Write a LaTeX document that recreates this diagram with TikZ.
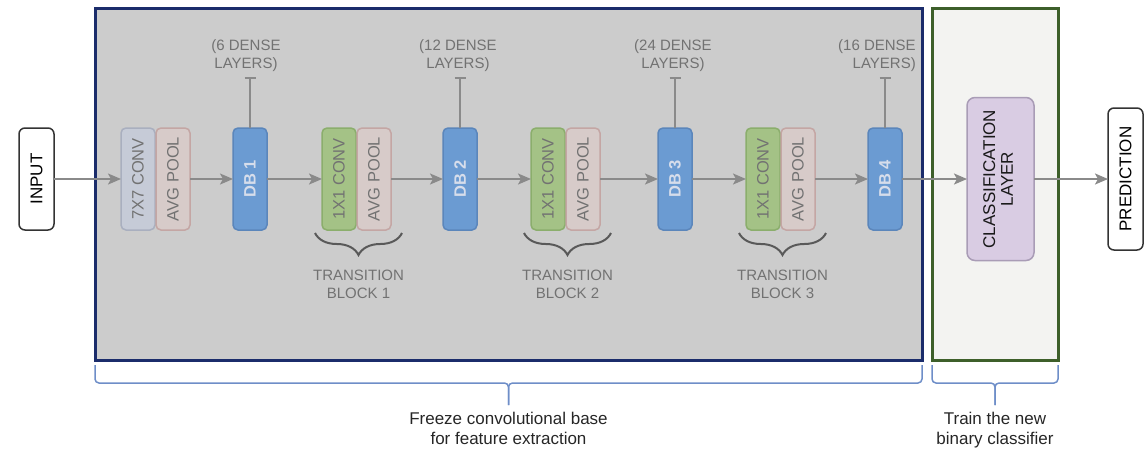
\documentclass[tikz,border=0pt]{standalone}
\usepackage{fontspec}
\setmainfont{Liberation Sans}
\usetikzlibrary{positioning, arrows.meta, decorations.pathreplacing}

\definecolor{frozenGray}{HTML}{CCCCCC}
\definecolor{frozenNavy}{HTML}{1B2C6B}
\definecolor{trainGreen}{HTML}{3D5F2A}
\definecolor{trainFill}{HTML}{F3F3F1}
\definecolor{convBlue}{HTML}{C6CBD7}
\definecolor{convBlueLine}{HTML}{A9AFBF}
\definecolor{poolPink}{HTML}{D7CBC9}
\definecolor{poolPinkLine}{HTML}{C4A6A4}
\definecolor{denseBlue}{HTML}{6B9BD2}
\definecolor{denseBlueLine}{HTML}{5B86BB}
\definecolor{denseText}{HTML}{D6DDEB}
\definecolor{transGreen}{HTML}{A4C286}
\definecolor{transGreenLine}{HTML}{8BAE6C}
\definecolor{classLilac}{HTML}{D9CCE3}
\definecolor{classLilacLine}{HTML}{A99CB6}
\definecolor{flowGray}{HTML}{8A8A8A}
\definecolor{labelGray}{HTML}{727272}
\definecolor{braceBlue}{HTML}{6E8EC8}

\tikzset{Block/.style={%
    shape=rectangle,%
    rounded corners=5pt,%
    minimum width=34pt,%
    minimum height=102pt,%
    inner sep=1pt,%
    outer sep=0pt,%
    line width=1.5pt,%
    text=labelGray,%
    font=\fontsize{16.5}{19}\selectfont,%
}}
\tikzset{ConvBlock/.style={Block, fill=convBlue, draw=convBlueLine}}
\tikzset{PoolBlock/.style={Block, fill=poolPink, draw=poolPinkLine}}
\tikzset{TransConv/.style={Block, fill=transGreen, draw=transGreenLine}}
\tikzset{DenseBlock/.style={Block, fill=denseBlue, draw=denseBlueLine, text=denseText}}
\tikzset{IOBox/.style={%
    Block,%
    fill=white,%
    draw=black!80,%
    rounded corners=6pt,%
    minimum width=35pt,%
    text=black,%
    font=\fontsize{17}{19}\selectfont,%
}}
\tikzset{ClassBlock/.style={%
    Block,%
    fill=classLilac,%
    draw=classLilacLine,%
    rounded corners=8pt,%
    minimum width=67pt,%
    minimum height=163pt,%
    text=black!90,%
    font=\fontsize{17}{17.7}\selectfont,%
}}
\tikzset{FrozenFrame/.style={%
    shape=rectangle,%
    draw=frozenNavy,%
    fill=frozenGray,%
    line width=3pt,%
    outer sep=0pt,%
    minimum width=827pt,%
    minimum height=352pt,%
}}
\tikzset{TrainFrame/.style={%
    FrozenFrame,%
    draw=trainGreen,%
    fill=trainFill,%
    minimum width=126pt,%
}}
\tikzset{FlowArrow/.style={%
    -{Stealth[length=13pt,width=11pt,inset=3pt]},%
    draw=flowGray,%
    fill=flowGray,%
    line width=2pt,%
}}
\tikzset{DenseLine/.style={%
    -{Bar[width=11pt]},%
    draw=flowGray,%
    line width=1.5pt,%
}}
\tikzset{DenseLabel/.style={%
    align=center,%
    inner sep=0pt,%
    text=labelGray,%
    font=\fontsize{15}{18}\selectfont,%
}}
\tikzset{TransBrace/.style={%
    decorate,%
    decoration={brace, mirror, amplitude=22pt},%
    draw=black!65,%
    line width=2pt,%
}}
\tikzset{FreezeBrace/.style={%
    draw=braceBlue,%
    line width=1.5pt,%
    rounded corners=4pt,%
}}
\tikzset{BottomText/.style={%
    align=center,%
    inner sep=0pt,%
    text=black!85,%
    font=\fontsize{17}{20}\selectfont,%
}}
\NewDocumentCommand{\blockText}{s m}{%
    \rotatebox{90}{\IfBooleanTF{#1}{\textbf{#2}}{#2}}%
}

\begin{document}
\begin{tikzpicture}[x=1pt, y=1pt]
    \useasboundingbox (0,0) rectangle (1145,-451);

    % frames
    \node[FrozenFrame] (frozen) at (508.5,-184) {};
    \node[TrainFrame, right=10pt of frozen] (train) {};

    % network
    \node[IOBox] (input) at (36.5,-179) {\blockText{INPUT}};
    \node[ConvBlock, right=67pt of input] (conv0) {\blockText{7X7 CONV}};
    \node[PoolBlock, right=1pt of conv0] (pool0) {\blockText{AVG POOL}};
    \node[DenseBlock, right=43pt of pool0] (db1) {\blockText*{DB 1}};
    \node[TransConv, right=55pt of db1] (conv1) {\blockText{1X1 CONV}};
    \node[PoolBlock, right=1pt of conv1] (pool1) {\blockText{AVG POOL}};
    \node[DenseBlock, right=52pt of pool1] (db2) {\blockText*{DB 2}};
    \node[TransConv, right=54pt of db2] (conv2) {\blockText{1X1 CONV}};
    \node[PoolBlock, right=1pt of conv2] (pool2) {\blockText{AVG POOL}};
    \node[DenseBlock, right=58pt of pool2] (db3) {\blockText*{DB 3}};
    \node[TransConv, right=54pt of db3] (conv3) {\blockText{1X1 CONV}};
    \node[PoolBlock, right=1pt of conv3] (pool3) {\blockText{AVG POOL}};
    \node[DenseBlock, right=53pt of pool3] (db4) {\blockText*{DB 4}};
    \node[ClassBlock, right=65pt of db4] (cls) {\blockText{\begin{tabular}{@{}c@{}}CLASSIFICATION\\LAYER\end{tabular}}};
    \node[IOBox, minimum height=142pt, right=74pt of cls] (pred) {\blockText{PREDICTION}};

    \draw[FlowArrow] (input) -- (conv0);
    \draw[FlowArrow] (pool0) -- (db1);
    \draw[FlowArrow] (db1) -- (conv1);
    \draw[FlowArrow] (pool1) -- (db2);
    \draw[FlowArrow] (db2) -- (conv2);
    \draw[FlowArrow] (pool2) -- (db3);
    \draw[FlowArrow] (db3) -- (conv3);
    \draw[FlowArrow] (pool3) -- (db4);
    \draw[FlowArrow] (db4) -- (cls);
    \draw[FlowArrow] (cls) -- (pred);

    % dense layer counts
    \coordinate[above=51pt of db1.north] (top1);
    \coordinate[above=51pt of db2.north] (top2);
    \coordinate[above=51pt of db3.north] (top3);
    \coordinate[above=51pt of db4.north] (top4);
    \draw[DenseLine] (db1) -- (top1);
    \draw[DenseLine] (db2) -- (top2);
    \draw[DenseLine] (db3) -- (top3);
    \draw[DenseLine] (db4) -- (top4);
    \node[DenseLabel, above=5pt of top1, xshift=-4pt] (dense1) {(6 DENSE\\LAYERS)};
    \node[DenseLabel, above=5pt of top2, xshift=-2pt] (dense2) {(12 DENSE\\LAYERS)};
    \node[DenseLabel, above=5pt of top3, xshift=-2pt] (dense3) {(24 DENSE\\LAYERS)};
    \node[DenseLabel, align=right, above=5pt of top4, xshift=-8pt] (dense4) {(16 DENSE\\LAYERS)};

    % transition blocks
    \draw[TransBrace] ([xshift=-7pt,yshift=-3pt]conv1.south west) -- ([xshift=11pt,yshift=-3pt]pool1.south east)
        node[DenseLabel, midway, below=36pt] (trans1) {TRANSITION\\BLOCK 1};
    \draw[TransBrace] ([xshift=-7pt,yshift=-3pt]conv2.south west) -- ([xshift=11pt,yshift=-3pt]pool2.south east)
        node[DenseLabel, midway, below=36pt] (trans2) {TRANSITION\\BLOCK 2};
    \draw[TransBrace] ([xshift=-7pt,yshift=-3pt]conv3.south west) -- ([xshift=11pt,yshift=-3pt]pool3.south east)
        node[DenseLabel, midway, below=36pt] (trans3) {TRANSITION\\BLOCK 3};

    % bottom braces
    \coordinate (fzMid) at ([yshift=-23pt]frozen.south);
    \coordinate (fzTip) at ([yshift=-45pt]frozen.south);
    \draw[FreezeBrace] ([yshift=-5pt]frozen.south west) |- (fzMid) -- (fzTip);
    \draw[FreezeBrace] ([yshift=-5pt]frozen.south east) |- (fzMid) -- (fzTip);
    \node[BottomText, below=7pt of fzTip] (fzText) {Freeze convolutional base\\for feature extraction};

    \coordinate (trMid) at ([yshift=-23pt]train.south);
    \coordinate (trTip) at ([yshift=-45pt]train.south);
    \draw[FreezeBrace] ([yshift=-5pt]train.south west) |- (trMid) -- (trTip);
    \draw[FreezeBrace] ([yshift=-5pt]train.south east) |- (trMid) -- (trTip);
    \node[BottomText, below=7pt of trTip] (trText) {Train the new\\binary classifier};
\end{tikzpicture}
\end{document}
